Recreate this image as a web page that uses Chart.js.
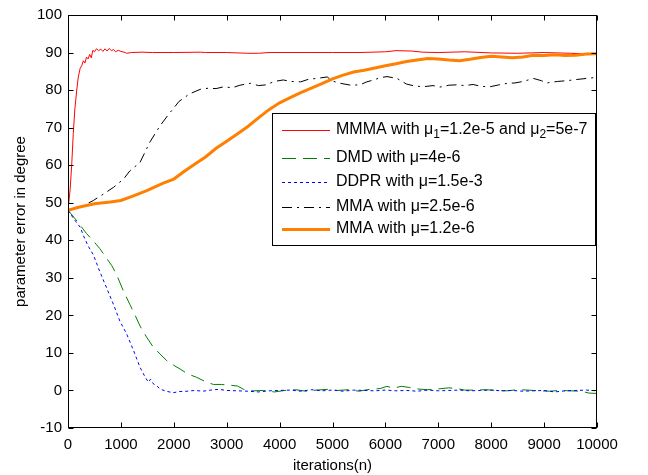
<!DOCTYPE html>
<html>
<head>
<meta charset="utf-8">
<script src="https://cdn.jsdelivr.net/npm/chart.js@4.4.1/dist/chart.umd.min.js"></script>
<style>
  html, body { margin: 0; padding: 0; background: #fff; }
  #wrap { width: 648px; height: 475px; }
</style>
</head>
<body>
<div id="wrap"><canvas id="myChart" width="648" height="475"></canvas></div>
<script>
/* global Chart */

// axis ticks
const xTicks = [0, 1000, 2000, 3000, 4000, 5000, 6000, 7000, 8000, 9000, 10000];
const yTicks = [-10, 0, 10, 20, 30, 40, 50, 60, 70, 80, 90, 100];

const seriesLabels = [
  'MMMA with μ₁=1.2e-5 and μ₂=5e-7',
  'DMD with μ=4e-6',
  'DDPR with μ=1.5e-3',
  'MMA with μ=2.5e-6',
  'MMA with μ=1.2e-6',
];

// MMMA, mu1=1.2e-5 and mu2=5e-7 (red)
const mmmaIter = [0, 40, 70, 100, 130, 165, 195, 230, 260, 290, 320, 350, 380, 410, 440, 470, 500, 540, 580, 620, 660, 700, 740, 780, 820, 860, 900, 950, 1000, 1060, 1110, 1200, 1400, 1600, 2000, 2500, 2600, 3000, 3400, 3600, 3800, 4500, 5000, 5500, 6000, 6200, 6500, 6700, 7000, 7500, 8000, 8500, 9000, 9500, 10000];
const mmmaVals = [48, 53.5, 60, 68.5, 75, 80, 83.5, 85.8, 86.5, 87.8, 87.2, 88.8, 88.3, 89.5, 88.6, 90.6, 90.2, 91, 90.5, 90.9, 90.3, 91, 90.4, 91.1, 90.5, 90.8, 90.2, 90.6, 90.3, 90.1, 89.8, 90, 90.1, 90, 90, 90.1, 90, 90, 89.8, 89.8, 90, 90, 90, 90, 90.2, 90.5, 90.4, 90.1, 90, 90.2, 89.9, 89.8, 90, 89.8, 89.6];

// DMD, mu=4e-6 (green)
const dmdIter = [0, 120, 230, 350, 480, 600, 730, 830, 920, 1050, 1170, 1270, 1360, 1490, 1600, 1740, 1870, 2000, 2120, 2250, 2430, 2620, 2750, 2900, 3050, 3200, 3320, 3500, 3700, 3900, 4100, 4300, 4500, 4700, 4900, 5100, 5300, 5500, 5700, 5900, 6030, 6150, 6300, 6450, 6600, 6800, 7000, 7200, 7350, 7500, 7700, 7900, 8100, 8300, 8500, 8700, 8900, 9100, 9300, 9500, 9700, 9850, 10000];
const dmdVals = [48, 46, 44, 41.8, 39.8, 37.8, 35.2, 33.2, 30.8, 26.4, 22.9, 20, 17.2, 14.1, 11.8, 9.7, 7.9, 6.7, 5.7, 4.5, 3.5, 2.2, 1.6, 1.6, 1.4, 1.2, 0.3, -0.1, 0, -0.4, 0, 0.2, -0.2, 0.1, 0.3, 0, 0.2, -0.2, 0.3, 0.5, 1.1, 0.6, 1.1, 0.8, 0.4, 0.2, 0.4, 0.7, 0.5, 0.1, 0.1, 0.2, 0, -0.1, 0.2, 0.1, -0.1, -0.2, 0, -0.1, -0.2, -0.7, -0.8];

// DDPR, mu=1.5e-3 (blue)
const ddprIter = [0, 120, 230, 290, 380, 480, 600, 730, 860, 980, 1110, 1240, 1360, 1460, 1520, 1560, 1610, 1680, 1740, 1850, 1990, 2100, 2250, 2400, 2550, 2700, 2850, 3000, 3200, 3400, 3600, 3800, 4000, 4200, 4400, 4600, 4800, 5000, 5200, 5400, 5600, 5800, 6000, 6200, 6400, 6600, 6800, 7000, 7200, 7400, 7600, 7800, 8000, 8200, 8400, 8600, 8800, 9000, 9200, 9400, 9600, 9800, 10000];
const ddprVals = [48, 45.5, 43.5, 41.3, 38.5, 36.1, 31.7, 27.3, 22.9, 18.5, 15, 10.6, 6.2, 3.5, 2.2, 3, 1.8, 1.2, 0.4, -0.2, -0.6, -0.3, -0.2, 0, -0.2, 0.1, 0.3, 0, -0.1, -0.2, -0.4, -0.1, 0, 0.1, -0.2, 0.2, -0.1, 0.1, -0.2, 0.1, 0, -0.1, 0.1, -0.1, 0, -0.2, 0.1, -0.1, 0, 0.1, -0.1, 0, 0.1, -0.1, 0, -0.2, -0.1, 0, -0.4, -0.1, 0, 0.1, -0.1];

// MMA, mu=2.5e-6 (black)
const mmaFastIter = [0, 150, 300, 480, 670, 860, 1050, 1170, 1360, 1550, 1740, 1900, 2100, 2300, 2500, 2650, 2800, 2950, 3100, 3250, 3450, 3600, 3750, 3900, 4070, 4200, 4400, 4550, 4700, 4900, 5000, 5150, 5350, 5520, 5650, 5780, 5900, 6030, 6220, 6400, 6550, 6720, 6900, 7030, 7200, 7350, 7500, 7660, 7800, 7980, 8150, 8300, 8450, 8600, 8800, 8950, 9050, 9250, 9430, 9600, 9800, 10000];
const mmaFastVals = [48, 48.5, 49.3, 50.6, 52.3, 54.1, 56.3, 58.5, 60.7, 66.2, 70.5, 73.5, 77, 79, 80.2, 80.5, 80.4, 80.9, 80.6, 81.3, 81.8, 81.2, 81.4, 82.3, 82.7, 82.3, 82.2, 82.9, 83.1, 83.5, 82.4, 81.8, 81.3, 81.4, 82.2, 82.7, 83.3, 83.6, 83.1, 81.6, 81.1, 80.9, 81.2, 80.8, 81.3, 81.4, 81.2, 81.5, 81, 80.9, 81.4, 81.8, 81.9, 82.3, 83.1, 82.5, 81.9, 82.3, 82.5, 82.8, 83.1, 83.4];

// MMA, mu=1.2e-6 (orange)
const mmaSlowIter = [0, 200, 500, 800, 1000, 1250, 1500, 1800, 2000, 2200, 2400, 2600, 2800, 3000, 3200, 3400, 3600, 3800, 4000, 4200, 4400, 4600, 4800, 5000, 5200, 5400, 5600, 5800, 6000, 6200, 6400, 6600, 6800, 7000, 7200, 7400, 7600, 7800, 8000, 8200, 8400, 8600, 8800, 9000, 9200, 9400, 9600, 9800, 10000];
const mmaSlowVals = [48, 48.8, 49.7, 50.2, 50.6, 51.9, 53.3, 55.2, 56.3, 58.4, 60.3, 62.2, 64.5, 66.4, 68.3, 70.3, 72.6, 74.8, 76.6, 78, 79.3, 80.5, 81.7, 83, 84, 84.8, 85.3, 85.9, 86.5, 87, 87.6, 88, 88.4, 88.3, 88, 87.8, 88.2, 88.7, 89, 88.8, 88.6, 88.8, 89.3, 89.2, 89.4, 89.2, 89.3, 89.6, 89.7];

{
  const FONT = "'Liberation Sans', Arial, Helvetica, sans-serif";

  const toPoints = (iters, vals) => iters.map((n, i) => ({ x: n, y: vals[i] }));

  const makeSet = (label, iters, vals, color, width, dash, order) => ({
    label,
    data: toPoints(iters, vals),
    borderColor: color,
    backgroundColor: color,
    borderWidth: width,
    borderDash: dash,
    pointRadius: 0,
    tension: 0,
    fill: false,
    order,
  });

  // box round the plot, with ticks pointing inwards on all four sides
  const framePlugin = {
    id: 'frame',
    afterDatasetsDraw(chart) {
      const { ctx, chartArea: a, scales } = chart;
      const l = Math.round(a.left) + 0.5;
      const r = Math.round(a.right) - 0.5;
      const t = Math.round(a.top) + 0.5;
      const b = Math.round(a.bottom) - 0.5;
      ctx.save();
      ctx.strokeStyle = '#000';
      ctx.lineWidth = 1;
      ctx.setLineDash([]);
      ctx.beginPath();
      for (const v of xTicks) {
        const px = Math.round(scales.x.getPixelForValue(v)) + 0.5;
        ctx.moveTo(px, b); ctx.lineTo(px, b - 5);
        ctx.moveTo(px, t); ctx.lineTo(px, t + 5);
      }
      for (const v of yTicks) {
        const py = Math.round(scales.y.getPixelForValue(v)) + 0.5;
        ctx.moveTo(l, py); ctx.lineTo(l + 5, py);
        ctx.moveTo(r, py); ctx.lineTo(r - 5, py);
      }
      ctx.stroke();
      ctx.strokeRect(l, t, r - l, b - t);
      ctx.restore();
    },
  };

  // text with subscript digits drawn smaller and lower
  const SUBS = { '₀': '0', '₁': '1', '₂': '2', '₃': '3' };
  const drawRich = (ctx, text, x, y) => {
    let cx = x;
    for (const ch of text) {
      if (SUBS[ch]) {
        ctx.font = `12px ${FONT}`;
        ctx.fillText(SUBS[ch], cx, y + 5);
        cx += ctx.measureText(SUBS[ch]).width;
      } else {
        ctx.font = `16px ${FONT}`;
        ctx.fillText(ch, cx, y);
        cx += ctx.measureText(ch).width;
      }
    }
  };

  const legendPlugin = {
    id: 'boxLegend',
    afterDraw(chart) {
      const { ctx } = chart;
      const box = { left: 272, top: 113, right: 595, bottom: 245 };
      const rows = [130, 158, 182, 207, 229];
      ctx.save();
      ctx.fillStyle = '#fff';
      ctx.fillRect(box.left, box.top, box.right - box.left, box.bottom - box.top);
      ctx.strokeStyle = '#000';
      ctx.lineWidth = 1;
      ctx.setLineDash([]);
      ctx.strokeRect(box.left + 0.5, box.top + 0.5, box.right - box.left, box.bottom - box.top);
      chart.data.datasets.forEach((ds, i) => {
        const y = rows[i];
        ctx.strokeStyle = ds.borderColor;
        ctx.lineWidth = ds.borderWidth;
        ctx.setLineDash(ds.borderDash);
        ctx.beginPath();
        ctx.moveTo(282, y + 0.5);
        ctx.lineTo(330, y + 0.5);
        ctx.stroke();
        ctx.setLineDash([]);
        ctx.fillStyle = '#000';
        ctx.textBaseline = 'middle';
        drawRich(ctx, ds.label, 336, y);
      });
      ctx.restore();
    },
  };

  const plainTick = (value) => String(value);

  const initChart = () => {
    const ctx = document.getElementById('myChart').getContext('2d');

    // eslint-disable-next-line no-unused-vars
    const chart = new Chart(ctx, {
      type: 'line',
      data: {
        datasets: [
          makeSet(seriesLabels[0], mmmaIter, mmmaVals, '#ff0000', 1, [], 5),
          makeSet(seriesLabels[1], dmdIter, dmdVals, '#008000', 1, [14, 7], 4),
          makeSet(seriesLabels[2], ddprIter, ddprVals, '#0000ff', 1, [3, 3], 3),
          makeSet(seriesLabels[3], mmaFastIter, mmaFastVals, '#000000', 1, [10, 5, 2, 5], 2),
          makeSet(seriesLabels[4], mmaSlowIter, mmaSlowVals, '#ff8000', 3, [], 1),
        ],
      },
      options: {
        responsive: false,
        animation: false,
        layout: { padding: { top: 11, right: 51, left: 0, bottom: 0 } },
        plugins: { legend: { display: false }, tooltip: { enabled: false } },
        scales: {
          x: {
            type: 'linear',
            min: 0,
            max: 10000,
            afterBuildTicks: (s) => { s.ticks = xTicks.map((v) => ({ value: v })); },
            afterFit: (s) => { s.height = 47; },
            ticks: { color: '#000', font: { family: FONT, size: 15 }, padding: 8, maxRotation: 0, autoSkip: false, callback: plainTick },
            grid: { display: false, drawTicks: false },
            border: { display: false },
            title: { display: true, text: 'iterations(n)', color: '#000', font: { family: FONT, size: 15 }, padding: { top: 0, bottom: 0 } },
          },
          y: {
            type: 'linear',
            min: -10,
            max: 100,
            afterBuildTicks: (s) => { s.ticks = yTicks.map((v) => ({ value: v })); },
            afterFit: (s) => { s.width = 68; },
            ticks: { color: '#000', font: { family: FONT, size: 15 }, padding: 6, autoSkip: false, callback: plainTick },
            grid: { display: false, drawTicks: false },
            border: { display: false },
            title: { display: true, text: 'parameter error in degree', color: '#000', font: { family: FONT, size: 15 }, padding: { top: 12, bottom: 0 } },
          },
        },
      },
      plugins: [framePlugin, legendPlugin],
    });
  };

  const app = () => {
    initChart();
  };

  app();
}
</script>
</body>
</html>
